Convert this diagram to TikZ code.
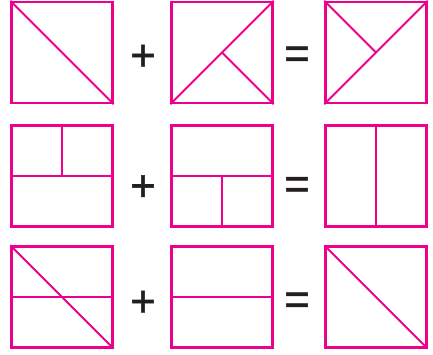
\documentclass[tikz,border=0pt]{standalone}
\usepackage{fontspec}
\setmainfont{Liberation Sans}
\newfontfamily\opfont[FakeBold=1.3]{Liberation Sans}
\usepackage{tikz}
\usetikzlibrary{positioning,calc}
\definecolor{magenta}{HTML}{EC008C}
\definecolor{ink}{HTML}{231F20}

\begin{document}
\begin{tikzpicture}[x=1pt,y=-1pt,
    sq/.style={draw=magenta, line width=2.3pt, minimum size=101pt, inner sep=0pt},
    cut/.style={draw=magenta, line width=1.9pt},
    op/.style={text=ink, font=\opfont\fontsize{44}{44}\selectfont, inner sep=0pt}]
        \useasboundingbox (0,0) rectangle (433,354);
        % Row 1: triangles
        \node[sq] (a1) at (62,52.5) {};
        \node[sq] (b1) at (222,52.5) {};
        \node[sq] (c1) at (376,52.5) {};
        \draw[cut] (a1.north west) -- (a1.south east);
        \draw[cut] (b1.south west) -- (b1.north east);
        \draw[cut] (b1.center) -- (b1.south east);
        \draw[cut] (c1.south west) -- (c1.north east);
        \draw[cut] (c1.north west) -- (c1.center);
        \node[op] (p1) at (143,57.5) {+};
        \node[op] (e1) at (297,57.5) {=};
        % Row 2: rectangles
        \node[sq] (a2) at (62,176) {};
        \node[sq] (b2) at (222,176) {};
        \node[sq] (c2) at (376,176) {};
        \draw[cut] (a2.west) -- (a2.east);
        \draw[cut] (a2.north) -- (a2.center);
        \draw[cut] (b2.west) -- (b2.east);
        \draw[cut] (b2.center) -- (b2.south);
        \draw[cut] (c2.north) -- (c2.south);
        \node[op] (p2) at (143,188) {+};
        \node[op] (e2) at (297,188) {=};
        % Row 3: mixed
        \node[sq] (a3) at (62,297) {};
        \node[sq] (b3) at (222,297) {};
        \node[sq] (c3) at (376,297) {};
        \draw[cut] (a3.west) -- (a3.east);
        \draw[cut] (a3.north west) -- (a3.south east);
        \draw[cut] (b3.west) -- (b3.east);
        \draw[cut] (c3.north west) -- (c3.south east);
        \node[op] (p3) at (143,303.5) {+};
        \node[op] (e3) at (297,303.5) {=};
      \end{tikzpicture}
\end{document}
